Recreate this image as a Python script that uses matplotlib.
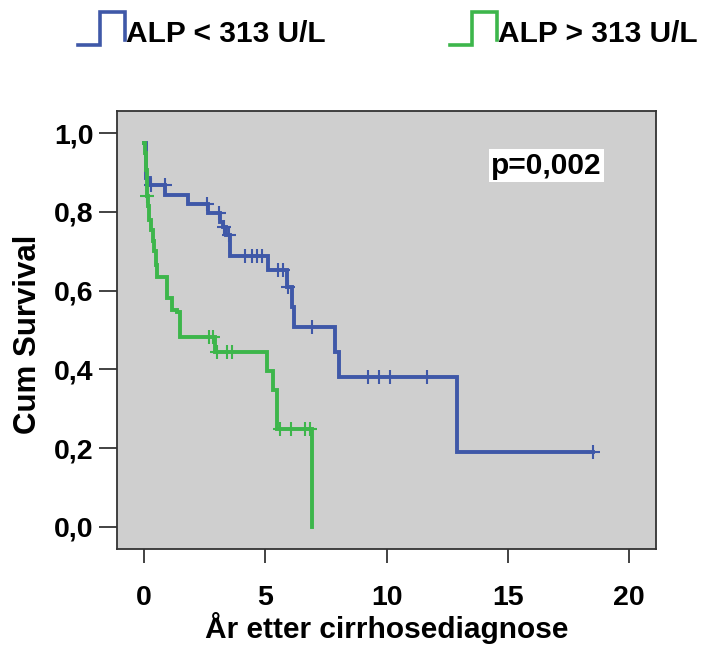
import numpy as np
import matplotlib
matplotlib.use("Agg")
import matplotlib.pyplot as plt
from matplotlib.lines import Line2D

# ---- data ----
blue_label = "ALP < 313 U/L"
green_label = "ALP > 313 U/L"

blue_times = [0.0, 0.08, 0.25, 0.87, 1.81, 2.64, 3.13, 3.26, 3.38, 3.55, 5.11,
              5.90, 6.10, 6.19, 7.88, 8.04, 12.91, 18.5]
blue_surv = [0.975, 0.886, 0.868, 0.843, 0.820, 0.797, 0.774, 0.761, 0.741, 0.688,
             0.652, 0.609, 0.558, 0.508, 0.444, 0.381, 0.190, 0.190]
blue_censor = [0.30, 0.85, 2.60, 3.10, 3.30, 3.50, 4.16, 4.45, 4.66, 4.87, 5.53,
               5.73, 5.94, 6.93, 9.24, 9.69, 10.14, 11.67, 18.5]

green_times = [0.0, 0.04, 0.08, 0.12, 0.16, 0.22, 0.29, 0.36, 0.42, 0.48, 0.54,
               0.95, 1.15, 1.36, 1.48, 2.93, 5.07, 5.32, 5.48, 6.93]
green_surv = [0.975, 0.95, 0.905, 0.84, 0.815, 0.78, 0.755, 0.725, 0.70, 0.665,
              0.635, 0.581, 0.551, 0.545, 0.482, 0.444, 0.396, 0.348, 0.249, 0.0]
green_censor = [0.14, 2.68, 2.85, 3.01, 3.42, 3.63, 5.61, 6.06, 6.64, 6.85]

x_ticks = [0, 5, 10, 15, 20]
y_ticks = [0.0, 0.2, 0.4, 0.6, 0.8, 1.0]
y_ticklabels = ["0,0", "0,2", "0,4", "0,6", "0,8", "1,0"]
p_text = "p=0,002"
xlabel = "År etter cirrhosediagnose"
ylabel = "Cum Survival"

BLUE = "#3f58a8"
GREEN = "#3db64b"
FONT = "Liberation Sans"

W, H = 705, 648
fig = plt.figure(figsize=(W / 100, H / 100), dpi=100)
fig.patch.set_facecolor("white")
ax = fig.add_axes([117 / W, 1 - 549 / H, (656 - 117) / W, (549 - 111) / H])
ax.set_facecolor("#cfcfcf")


def step_val(times, surv, t):
    i = np.searchsorted(times, t, side="right") - 1
    return np.asarray(surv)[i]


for times, surv, cens, col in [(blue_times, blue_surv, blue_censor, BLUE),
                               (green_times, green_surv, green_censor, GREEN)]:
    ax.step(times, surv, where="post", color=col, lw=2.8, solid_joinstyle="miter")
    cy = [step_val(times, surv, t) for t in cens]
    ax.plot(cens, cy, ls="none", marker="+", ms=10, mew=1.5, color=col)

ax.set_xlim(-1.11, 21.1)
ax.set_ylim(-0.056, 1.056)
ax.set_xticks(x_ticks)
ax.set_xticklabels([str(v) for v in x_ticks])
ax.set_yticks(y_ticks)
ax.set_yticklabels(y_ticklabels)

for lab in ax.get_xticklabels() + ax.get_yticklabels():
    lab.set_fontfamily(FONT)
    lab.set_fontweight("bold")
    lab.set_fontsize(20.5)
ax.tick_params(axis="y", length=13, width=1.2, pad=4, color="#222222")
ax.tick_params(axis="x", length=10, width=1.2, pad=16, color="#222222")
for s in ax.spines.values():
    s.set_color("#333333")
    s.set_linewidth(1.3)

ax.set_ylabel(ylabel, fontfamily=FONT, fontweight="bold", fontsize=22.5)
ax.yaxis.set_label_coords(-0.138, 0.49)
ax.set_xlabel(xlabel, fontfamily=FONT, fontweight="bold", fontsize=21.5, labelpad=1)

ax.text(0.797, 0.875, p_text, transform=ax.transAxes, ha="center", va="center",
        fontfamily=FONT, fontweight="bold", fontsize=21.5,
        bbox=dict(boxstyle="square,pad=0.08", fc="white", ec="none"))

# legend at top
def fx(px):
    return px / W

def fy(py):
    return 1 - py / H

for x0, col, lab in [(78, BLUE, blue_label), (450, GREEN, green_label)]:
    xs = [x0, x0 + 22, x0 + 22, x0 + 47, x0 + 47]
    ys = [45, 45, 12, 12, 40]
    fig.add_artist(Line2D([fx(v) for v in xs], [fy(v) for v in ys], color=col,
                          lw=2.6, solid_joinstyle="miter", transform=fig.transFigure))
    fig.text(fx(x0 + 48), fy(42), lab, ha="left", va="baseline",
             fontfamily=FONT, fontweight="bold", fontsize=21.5)

fig.savefig("out.png", dpi=100)
